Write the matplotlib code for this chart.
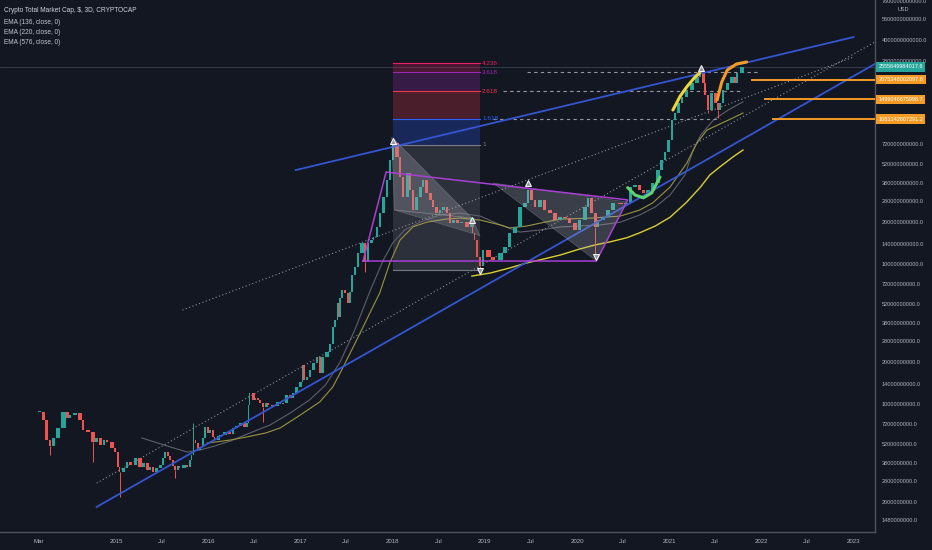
import matplotlib
matplotlib.use("Agg")
import matplotlib.pyplot as plt
import matplotlib.transforms as mtrans
from matplotlib.patches import Polygon
import numpy as np

plt.rcParams['font.family'] = ['Liberation Sans', 'DejaVu Sans']

# ---------------- data (dates in decimal years, values in billions USD) ----------------
dates = [2014.17, 2014.21, 2014.25, 2014.28, 2014.32, 2014.37, 2014.43, 2014.47, 2014.50, 2014.56,
         2014.61, 2014.64, 2014.70, 2014.75, 2014.79, 2014.83, 2014.87, 2014.90, 2014.96, 2014.99,
         2015.02, 2015.04, 2015.08, 2015.12, 2015.16, 2015.21, 2015.26, 2015.30, 2015.34, 2015.37,
         2015.40, 2015.44, 2015.48, 2015.51, 2015.53, 2015.56, 2015.59, 2015.62, 2015.64, 2015.67,
         2015.69, 2015.74, 2015.77, 2015.80, 2015.82, 2015.84, 2015.86, 2015.89, 2015.91, 2015.94,
         2015.97, 2016.00, 2016.02, 2016.05, 2016.07, 2016.11, 2016.13, 2016.18, 2016.23, 2016.27,
         2016.31, 2016.35, 2016.39, 2016.42, 2016.44, 2016.45, 2016.49, 2016.51, 2016.54, 2016.56,
         2016.59, 2016.63, 2016.65, 2016.70, 2016.75, 2016.78, 2016.81, 2016.85, 2016.89, 2016.92,
         2016.96, 2017.00, 2017.02, 2017.04, 2017.07, 2017.10, 2017.14, 2017.18, 2017.21, 2017.24,
         2017.29, 2017.32, 2017.35, 2017.38, 2017.40, 2017.41, 2017.43, 2017.45, 2017.48, 2017.52,
         2017.54, 2017.56, 2017.59, 2017.62, 2017.67, 2017.70, 2017.73, 2017.77, 2017.79, 2017.83,
         2017.86, 2017.90, 2017.94, 2017.97, 2018.00, 2018.05, 2018.08, 2018.11, 2018.16, 2018.19,
         2018.22, 2018.26, 2018.30, 2018.33, 2018.37, 2018.41, 2018.44, 2018.48, 2018.51, 2018.55,
         2018.59, 2018.62, 2018.66, 2018.70, 2018.75, 2018.81, 2018.86, 2018.87, 2018.89, 2018.92,
         2018.95, 2018.98, 2019.04, 2019.09, 2019.17, 2019.22, 2019.27, 2019.33, 2019.38, 2019.44,
         2019.47, 2019.51, 2019.54, 2019.60, 2019.65, 2019.71, 2019.76, 2019.82, 2019.87, 2019.92,
         2019.98, 2020.03, 2020.09, 2020.12, 2020.16, 2020.20, 2020.23, 2020.28, 2020.34, 2020.39,
         2020.47, 2020.54, 2020.58, 2020.63, 2020.68, 2020.72, 2020.77, 2020.82, 2020.88, 2020.92,
         2020.95, 2020.99, 2021.03, 2021.06, 2021.10, 2021.14, 2021.19, 2021.25, 2021.30, 2021.33,
         2021.37, 2021.39, 2021.42, 2021.46, 2021.50, 2021.53, 2021.55, 2021.58, 2021.63, 2021.68,
         2021.71, 2021.74, 2021.79]
closes = [8.76, 7.69, 5.53, 5.01, 5.72, 6.74, 8.76, 7.95, 8.35, 8.62,
          7.69, 6.52, 6.31, 5.35, 5.72, 5.09, 5.53, 5.35, 4.85, 4.54,
          3.55, 3.27, 3.49, 3.85, 3.67, 4.11, 3.55, 3.79, 3.38, 3.55,
          3.27, 3.49, 3.67, 4.11, 4.54, 4.25, 3.98, 3.61, 3.38, 3.61,
          3.49, 3.67, 3.55, 3.98, 4.32, 5.53, 5.26, 4.69, 4.93, 5.72,
          6.85, 6.20, 6.52, 5.82, 5.53, 5.91, 6.00, 6.31, 6.10, 6.74,
          6.97, 7.32, 6.85, 7.32, 9.86, 12.0, 10.7, 11.06, 10.7, 10.18,
          9.54, 10.18, 9.86, 9.60, 10.35, 10.01, 10.18, 11.6, 11.06, 12.0,
          13.2, 14.3, 19.0, 14.8, 15.55, 17.5, 19.6, 21.65, 16.65, 21.65,
          23.5, 26.7, 35.5, 39.8, 52.6, 41.8, 57.2, 65.2, 62.0, 52.6,
          63.0, 83.4, 95.2, 119.9, 140.8, 103.5, 141, 148, 155.6, 184,
          231, 301, 398, 553, 731, 581, 418, 301, 446, 338,
          243, 301, 355, 398, 322, 287, 256, 231, 243, 256,
          231, 196, 206, 196, 200, 184, 213, 167, 148, 112,
          96, 126, 112, 107, 120, 132, 167, 184, 256, 273,
          338, 287, 256, 287, 243, 231, 206, 216, 212, 196,
          175, 206, 256, 297, 231, 184, 206, 216, 243, 273,
          268, 273, 355, 366, 338, 322, 338, 379, 469, 553,
          630, 769, 1068, 1198, 1413, 1559, 1749, 1963, 2166, 2351,
          1963, 1607, 1259, 1660, 1413, 1259, 1413, 1749, 1963, 2166,
          1963, 2310, 2556]
wick_high_dates = [2015.84, 2018.00, 2021.33]
wick_high_vals = [7.3, 794, 2500]
wick_low_dates = [2014.28, 2014.75, 2015.04, 2015.64, 2016.59, 2017.70, 2018.95, 2020.20, 2021.42, 2021.53]
wick_low_vals = [4.32, 3.85, 2.17, 2.96, 7.43, 87.7, 83.4, 115, 1198, 1100]

ema136_dates = [2015.28, 2015.42, 2015.59, 2015.77, 2015.91, 2016.07, 2016.24, 2016.45, 2016.67, 2016.89,
                2017.10, 2017.27, 2017.43, 2017.59, 2017.76, 2017.90, 2018.00, 2018.13, 2018.30, 2018.51,
                2018.73, 2018.95, 2019.17, 2019.38, 2019.60, 2019.82, 2020.03, 2020.25, 2020.47, 2020.68,
                2020.85, 2021.01, 2021.17, 2021.26, 2021.34, 2021.48, 2021.64, 2021.80]
ema136_vals = [5.72, 5.35, 4.93, 4.54, 4.69, 5.01, 5.44, 6.2, 7.08, 8.62,
               10.7, 13.6, 19.9, 33.8, 65.2, 107, 141, 175, 199, 224,
               231, 220, 190, 169, 175, 184, 187, 190, 199, 224,
               256, 311, 432, 652, 830, 1068, 1259, 1440]
ema220_dates = [2015.99, 2016.24, 2016.42, 2016.62, 2016.78, 2017.00, 2017.21, 2017.35, 2017.43, 2017.54,
                2017.68, 2017.78, 2017.86, 2017.97, 2018.08, 2018.22, 2018.37, 2018.57, 2018.73, 2018.95,
                2019.17, 2019.27, 2019.46, 2019.65, 2019.82, 2020.17, 2020.47, 2020.68, 2020.82, 2021.01,
                2021.19, 2021.30, 2021.41, 2021.55, 2021.69, 2021.80]
ema220_vals = [5.26, 5.53, 5.82, 6.2, 6.74, 8.35, 10.35, 13.2, 16.6, 23.1,
               35.5, 48.5, 62.0, 102, 148, 184, 199, 209, 213, 206,
               190, 181, 187, 199, 209, 213, 220, 243, 273, 355,
               525, 731, 906, 1000, 1104, 1198]
ema576_dates = [2018.86, 2019.06, 2019.27, 2019.46, 2019.65, 2019.82, 2020.03, 2020.20, 2020.36, 2020.54,
                2020.68, 2020.85, 2021.01, 2021.19, 2021.34, 2021.44, 2021.55, 2021.69, 2021.80]
ema576_vals = [82, 86.2, 93.7, 102, 109, 116, 128, 137, 144, 154,
               167, 187, 216, 277, 355, 432, 494, 581, 652]

# drawings: trend lines (dates, values in billions)
blue_upper = ([2016.95, 2023.00], [469, 4180])
blue_lower = ([2014.79, 2023.23], [1.84, 2683])
dotted_a = ([2014.79, 2023.23], [2.72, 3853])
dotted_b = ([2015.72, 2023.00], [46.9, 3010])

fib_start, fib_end = 2018.00, 2018.95
fib_low, fib_high = 90, 710
fib_levels = [0, 1, 1.618, 2.618, 3.618, 4.236]
fib_labels = ["", "1", "1.618", "2.618", "3.618", "4.236"]
fib_colors = ["#787b86", "#787b86", "#2962ff", "#f23645", "#9c27b0", "#e91e63"]
fib_ext_levels = [1.618, 2.618, 3.618]
fib_ext_start = [2019.09, 2019.20, 2019.46]
fib_ext_end = [2021.55, 2021.77, 2021.96]

tri_2018_a = ([2017.99, 2018.86, 2018.02], [808, 213, 243])
tri_2018_b = ([2018.02, 2018.86, 2018.95], [243, 213, 159])
tri_2019 = ([2019.09, 2020.54, 2020.21], [379, 278, 105])
purple_shape = ([2017.68, 2017.93, 2020.55, 2020.21, 2017.68], [105, 454, 287, 105, 105])

marker_up_dates = [2018.00, 2018.86, 2019.47, 2021.34]
marker_up_vals = [760, 206, 379, 2500]
marker_dn_dates = [2018.95, 2020.21]
marker_dn_vals = [89, 112]

arc_green = ([2020.55, 2020.63, 2020.72, 2020.81, 2020.90], [351, 311, 297, 322, 418])
arc_yellow = ([2021.04, 2021.12, 2021.19, 2021.28, 2021.33], [1259, 1585, 1840, 2166, 2310])
arc_orange = ([2021.52, 2021.57, 2021.63, 2021.73, 2021.84], [1484, 1996, 2431, 2683, 2775])

level_labels = ["2075348002097.8", "1499046675998.7", "1083142607291.2"]
level_vals = [2075.3480020978, 1499.0466759987, 1083.1426072912]
level_start = [2021.90, 2022.04, 2022.13]
last_price = 2555.6499840176
last_label = "2555649984017.6"

ytick_vals = [7.6e12, 5.6e12, 4.0e12, 2.8e12, 720e9, 520e9, 380e9, 280e9, 200e9, 140e9, 100e9,
              72e9, 52e9, 38e9, 28e9, 20e9, 14e9, 10e9, 7.2e9, 5.2e9, 3.8e9, 2.8e9, 2.0e9, 1.48e9]
xtick_pos = [2014.164, 2015.0, 2015.496, 2016.0, 2016.496, 2017.0, 2017.496, 2018.0, 2018.496,
             2019.0, 2019.496, 2020.0, 2020.496, 2021.0, 2021.496, 2022.0, 2022.496, 2023.0]
xtick_labels = ["Mar", "2015", "Jul", "2016", "Jul", "2017", "Jul", "2018", "Jul",
                "2019", "Jul", "2020", "Jul", "2021", "Jul", "2022", "Jul", "2023"]

legend_lines = ["Crypto Total Market Cap, $, 3D, CRYPTOCAP", "EMA (136, close, 0)",
                "EMA (220, close, 0)", "EMA (576, close, 0)"]

# ---------------- style ----------------
BG = "#131722"
TXT = "#b2b5be"
UP = "#26a69a"
DN = "#ef5350"
B = 1e9
FS_AX = 4.0

fig = plt.figure(figsize=(9.32, 5.5), dpi=100, facecolor=BG)
ax = fig.add_axes([0, 18 / 550, 875 / 932, 532 / 550], facecolor=BG)
ax.set_yscale("log")
ax.set_xlim(2013.742, 2023.232)
ax.set_ylim(1.218e9, 7.687e12)

# candles
d = np.array(dates)
c = np.array(closes) * B
o = np.concatenate([[c[0]], c[:-1]])
gaps = np.diff(np.concatenate([[d[0] - 0.04], d]))
widths = gaps * 0.75
hi = np.maximum(o, c)
lo = np.minimum(o, c)
hi = np.maximum(hi, lo * 1.012)
cols = [UP if cc >= oo else DN for cc, oo in zip(c, o)]
ax.bar(d - gaps * 0.375, hi - lo, bottom=lo, width=widths, color=cols, align="edge",
       linewidth=0, zorder=3)
wick_hi = dict(zip(wick_high_dates, wick_high_vals))
wick_lo = dict(zip(wick_low_dates, wick_low_vals))
for i, dd in enumerate(dates):
    top = wick_hi.get(dd, None)
    bot = wick_lo.get(dd, None)
    if top is not None:
        ax.vlines(dd, hi[i], top * B, color=cols[i], lw=0.7, zorder=3)
    if bot is not None:
        ax.vlines(dd, bot * B, lo[i], color=cols[i], lw=0.7, zorder=3)

# EMAs
ax.plot(ema136_dates, np.array(ema136_vals) * B, color="#5d6068", lw=0.8, zorder=2)
ax.plot(ema220_dates, np.array(ema220_vals) * B, color="#9a9440", lw=0.8, zorder=2)
ax.plot(ema576_dates, np.array(ema576_vals) * B, color="#d9cf2e", lw=1.0, zorder=2)

# trend lines
ax.plot(blue_upper[0], np.array(blue_upper[1]) * B, color="#3455d1", lw=1.3, zorder=4)
ax.plot(blue_lower[0], np.array(blue_lower[1]) * B, color="#3455d1", lw=1.3, zorder=4)
ax.plot(dotted_a[0], np.array(dotted_a[1]) * B, color="#8d9099", lw=0.8, ls=(0, (1, 2.2)), zorder=2)
ax.plot(dotted_b[0], np.array(dotted_b[1]) * B, color="#8d9099", lw=0.8, ls=(0, (1, 2.2)), zorder=2)

# last price line
ax.axhline(last_price * B, color="#3a4150", lw=0.6, zorder=1)

# fib extension
fib_prices = [fib_low + lv * (fib_high - fib_low) for lv in fib_levels]
for k in range(1, len(fib_levels)):
    ax.fill_between([fib_start, fib_end], fib_prices[k - 1] * B, fib_prices[k] * B,
                    color=fib_colors[k], alpha=0.25, lw=0, zorder=1)
for k, p in enumerate(fib_prices):
    ax.plot([fib_start, fib_end], [p * B, p * B], color=fib_colors[k], lw=0.8, zorder=2)
    if fib_labels[k]:
        ax.text(fib_end + 0.02, p * B, fib_labels[k], color=fib_colors[k], fontsize=4.6,
                ha="left", va="center", zorder=5)
for lv, s, e in zip(fib_ext_levels, fib_ext_start, fib_ext_end):
    p = (fib_low + lv * (fib_high - fib_low)) * B
    ax.plot([s, e], [p, p], color="#9598a1", lw=0.8, ls=(0, (3, 3)), zorder=2)

# pattern shapes
for tri, a in ((tri_2018_a, 0.28), (tri_2018_b, 0.22), (tri_2019, 0.25)):
    pts = np.column_stack([tri[0], np.array(tri[1]) * B])
    ax.add_patch(Polygon(pts, closed=True, fc="#b2b5be", alpha=a, ec="#d1d4dc", lw=0.5, zorder=4))
ax.plot(purple_shape[0], np.array(purple_shape[1]) * B, color="#a93fd4", lw=1.1, zorder=5)
ax.plot(marker_up_dates, np.array(marker_up_vals) * B, ls="none", marker="^", ms=5,
        mfc="#9598a1", mec="white", mew=0.7, zorder=6)
ax.plot(marker_dn_dates, np.array(marker_dn_vals) * B, ls="none", marker="v", ms=5,
        mfc="#9598a1", mec="white", mew=0.7, zorder=6)

# arcs
ax.plot(arc_green[0], np.array(arc_green[1]) * B, color="#5fd36f", lw=2.2, zorder=6,
        solid_capstyle="round")
ax.plot(arc_yellow[0], np.array(arc_yellow[1]) * B, color="#f0d43a", lw=2.2, zorder=6,
        solid_capstyle="round")
ax.plot(arc_orange[0], np.array(arc_orange[1]) * B, color="#f59a23", lw=2.2, zorder=6,
        solid_capstyle="round")

# orange horizontal rays + axis labels
blend = mtrans.blended_transform_factory(ax.transAxes, ax.transData)
for lab, v, s in zip(level_labels, level_vals, level_start):
    ax.plot([s, 2023.232], [v * B, v * B], color="#f59a23", lw=1.4, zorder=5)
    ax.text(1.0 + 3.5 / 875, v * B, lab, transform=blend, fontsize=FS_AX, color="white",
            ha="left", va="center", clip_on=False, zorder=10,
            bbox=dict(boxstyle="square,pad=0.4", fc="#f59a23", ec="none"))
ax.text(1.0 + 3.5 / 875, last_price * B, last_label, transform=blend, fontsize=FS_AX, color="white",
        ha="left", va="center", clip_on=False, zorder=10,
        bbox=dict(boxstyle="square,pad=0.4", fc="#26a69a", ec="none"))

# axes styling
for side in ("top", "left"):
    ax.spines[side].set_visible(False)
for side in ("right", "bottom"):
    ax.spines[side].set_color("#50535e")
    ax.spines[side].set_linewidth(1.0)
ax.yaxis.tick_right()
ax.set_yticks(ytick_vals)
ax.set_yticklabels([f"{v:.1f}" for v in ytick_vals])
ax.yaxis.set_minor_locator(matplotlib.ticker.NullLocator())
ax.set_xticks(xtick_pos)
ax.set_xticklabels(xtick_labels)
ax.tick_params(axis="y", length=0, pad=5, labelsize=FS_AX, labelcolor=TXT)
ax.tick_params(axis="x", length=0, pad=5, labelsize=4.4, labelcolor=TXT)

# header text
ys = [11, 22, 32.5, 43]
for i, t in enumerate(legend_lines):
    fig.text(4 / 932, 1 - ys[i] / 550, t, fontsize=4.7, color="#d1d4dc" if i == 0 else "#c3c6ce",
             ha="left", va="center")
fig.text(903 / 932, 1 - 9.5 / 550, "USD", fontsize=4.0, color=TXT, ha="center", va="center")

fig.savefig("out.png", dpi=100, facecolor=BG)
